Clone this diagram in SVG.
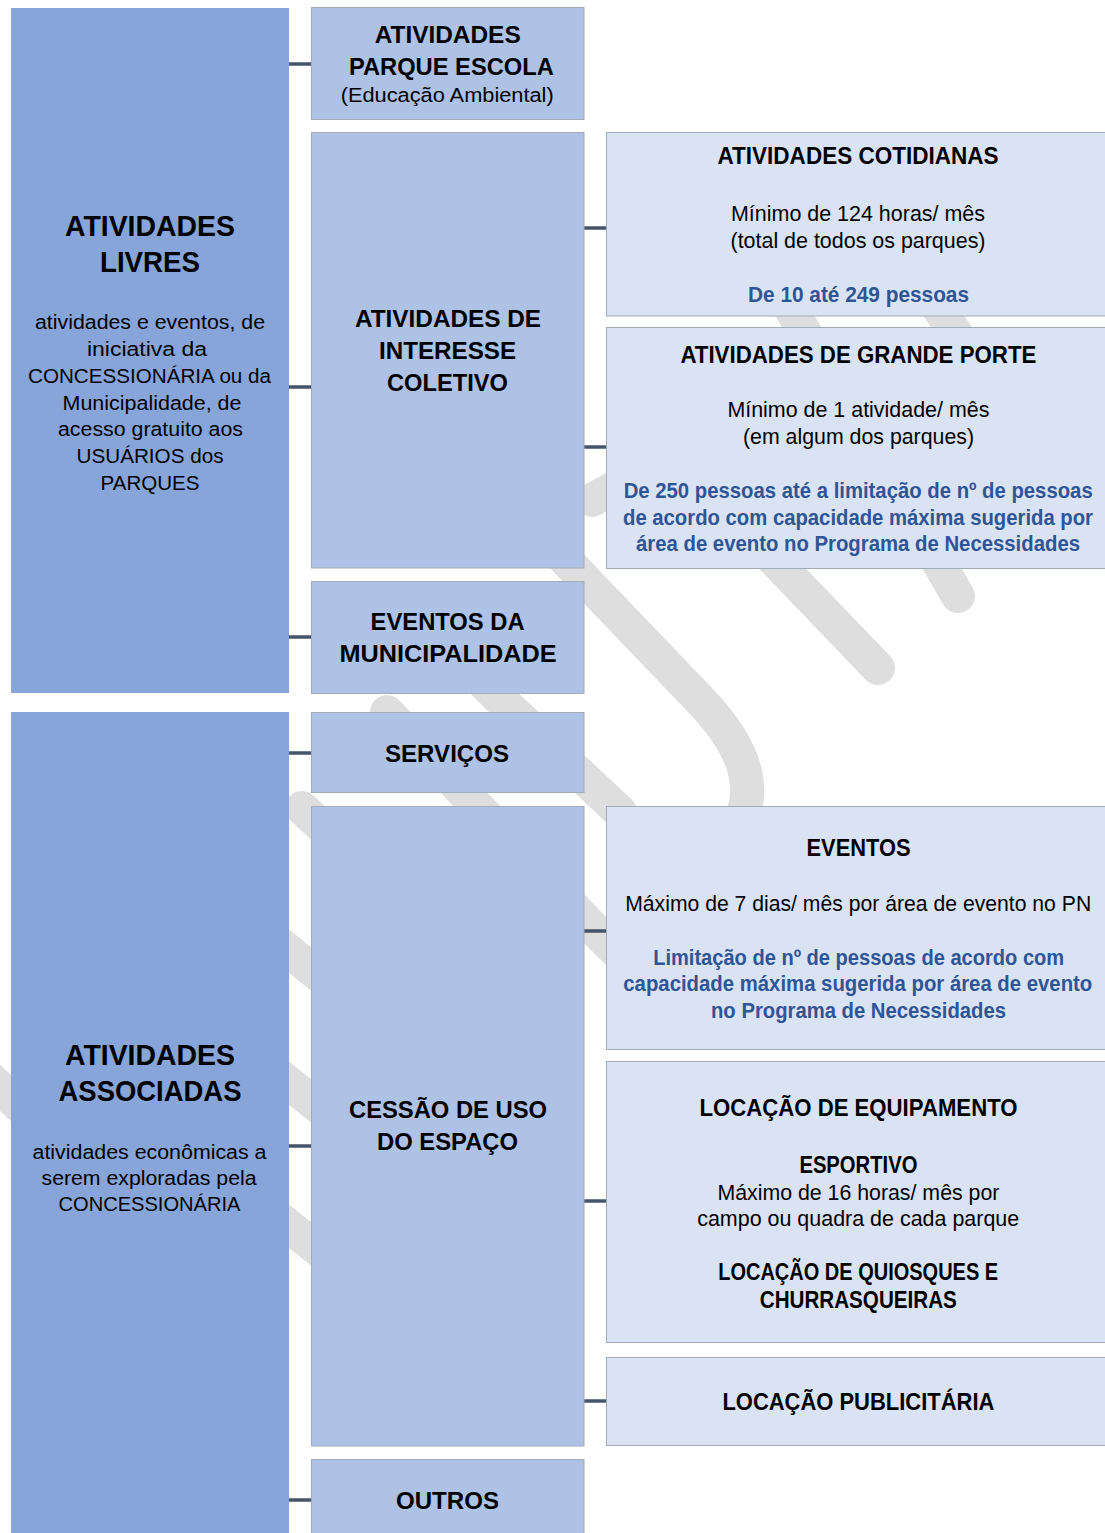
<svg xmlns="http://www.w3.org/2000/svg" width="1105" height="1533" viewBox="0 0 1105 1533">
<style>
  text { font-family: "Liberation Sans", Arial, sans-serif; text-anchor: middle; fill: #000; }
  .wm { fill: none; stroke: #DEDEDE; stroke-width: 34; stroke-linecap: round; stroke-linejoin: round; }
  .c1 { fill: #87A5D9; }
  .c2 { fill: #ADC2E5; stroke: #A3ABB8; stroke-width: 1; }
  .c3 { fill: #DAE3F3; stroke: #A3ABB8; stroke-width: 1; }
  .t1 { font-size: 30px; font-weight: bold; }
  .d1 { font-size: 20px; }
  .t2 { font-size: 24px; font-weight: bold; }
  .t3 { font-size: 24px; font-weight: bold; }
  .b3 { font-size: 22px; }
  .s3 { font-size: 23px; font-weight: bold; }
  .bl { font-size: 22px; font-weight: bold; fill: #2F5597; }
  .conn line { stroke: #44546A; stroke-width: 3.5; }
</style>
<rect x="0" y="0" width="1105" height="1533" fill="#FFFFFF"/>

<g id="watermark">
  <path class="wm" d="M 470 460 L 700 700 C 750 752, 762 800, 728 838 L 690 870"/>
  <path class="wm" d="M 630 410 L 878 668"/>
  <path class="wm" d="M 780 290 L 958 596"/>
  <path class="wm" d="M 900 250 L 960 340"/>
  <path class="wm" d="M 592 500 L 700 440"/>
  <path class="wm" d="M 387 712 L 595 930 L 640 975"/>
  <path class="wm" d="M 440 640 L 503 702 L 620 812"/>
  <path class="wm" d="M 302 808 L 360 862"/>
  <path class="wm" d="M 250 920 L 350 1000"/>
  <path class="wm" d="M 250 1052 L 350 1132"/>
  <path class="wm" d="M 250 1195 L 350 1275"/>
  <path class="wm" d="M -30 1060 L 40 1125"/>
</g>

<g id="connectors" class="conn">
  <line x1="289" y1="64" x2="311" y2="64"/>
  <line x1="289" y1="387" x2="311" y2="387"/>
  <line x1="289" y1="637" x2="311" y2="637"/>
  <line x1="289" y1="753" x2="311" y2="753"/>
  <line x1="289" y1="1146" x2="311" y2="1146"/>
  <line x1="289" y1="1500" x2="311" y2="1500"/>
  <line x1="584" y1="228" x2="606" y2="228"/>
  <line x1="584" y1="447" x2="606" y2="447"/>
  <line x1="584" y1="931" x2="606" y2="931"/>
  <line x1="584" y1="1201" x2="606" y2="1201"/>
  <line x1="584" y1="1401" x2="606" y2="1401"/>
</g>

<g id="atividades-livres">
  <rect class="c1" x="11" y="8" width="278" height="685"/>
  <text class="t1" x="150" y="236" textLength="170" lengthAdjust="spacingAndGlyphs">ATIVIDADES</text>
  <text class="t1" x="150" y="271.5" textLength="100" lengthAdjust="spacingAndGlyphs">LIVRES</text>
  <text class="d1" x="150" y="328.5" textLength="230" lengthAdjust="spacingAndGlyphs">atividades e eventos, de</text>
  <text class="d1" x="147" y="355.5" textLength="120" lengthAdjust="spacingAndGlyphs">iniciativa da</text>
  <text class="d1" x="149.5" y="382.5" textLength="243" lengthAdjust="spacingAndGlyphs">CONCESSIONÁRIA ou da</text>
  <text class="d1" x="152" y="409.5" textLength="179" lengthAdjust="spacingAndGlyphs">Municipalidade, de</text>
  <text class="d1" x="150.5" y="436" textLength="185" lengthAdjust="spacingAndGlyphs">acesso gratuito aos</text>
  <text class="d1" x="150" y="463" textLength="147" lengthAdjust="spacingAndGlyphs">USUÁRIOS dos</text>
  <text class="d1" x="150" y="489.5" textLength="99" lengthAdjust="spacingAndGlyphs">PARQUES</text>
</g>

<g id="atividades-associadas">
  <rect class="c1" x="11" y="712" width="278" height="830"/>
  <text class="t1" x="150" y="1064.5" textLength="170" lengthAdjust="spacingAndGlyphs">ATIVIDADES</text>
  <text class="t1" x="150" y="1100.5" textLength="183" lengthAdjust="spacingAndGlyphs">ASSOCIADAS</text>
  <text class="d1" x="149.5" y="1158.5" textLength="234" lengthAdjust="spacingAndGlyphs">atividades econômicas a</text>
  <text class="d1" x="149" y="1184.5" textLength="215" lengthAdjust="spacingAndGlyphs">serem exploradas pela</text>
  <text class="d1" x="149.5" y="1211" textLength="182" lengthAdjust="spacingAndGlyphs">CONCESSIONÁRIA</text>
</g>

<g id="parque-escola">
  <rect class="c2" x="311.5" y="7.5" width="272.5" height="112"/>
  <text class="t2" x="447.7" y="43" textLength="146" lengthAdjust="spacingAndGlyphs">ATIVIDADES</text>
  <text class="t2" x="451.4" y="74.5" textLength="205" lengthAdjust="spacingAndGlyphs">PARQUE ESCOLA</text>
  <text class="d1" x="447.2" y="102" textLength="213" lengthAdjust="spacingAndGlyphs">(Educação Ambiental)</text>
</g>

<g id="interesse-coletivo">
  <rect class="c2" x="311.5" y="132.5" width="272.5" height="435.5"/>
  <text class="t2" x="448" y="327" textLength="186" lengthAdjust="spacingAndGlyphs">ATIVIDADES DE</text>
  <text class="t2" x="447.5" y="359" textLength="137" lengthAdjust="spacingAndGlyphs">INTERESSE</text>
  <text class="t2" x="447.5" y="391" textLength="121" lengthAdjust="spacingAndGlyphs">COLETIVO</text>
</g>

<g id="eventos-municipalidade">
  <rect class="c2" x="311.5" y="581.5" width="272.5" height="112"/>
  <text class="t2" x="447.6" y="630" textLength="154" lengthAdjust="spacingAndGlyphs">EVENTOS DA</text>
  <text class="t2" x="448" y="662" textLength="217" lengthAdjust="spacingAndGlyphs">MUNICIPALIDADE</text>
</g>

<g id="servicos">
  <rect class="c2" x="311.5" y="712.5" width="272.5" height="80"/>
  <text class="t2" x="447" y="761.5" textLength="124" lengthAdjust="spacingAndGlyphs">SERVIÇOS</text>
</g>

<g id="cessao-uso">
  <rect class="c2" x="311.5" y="806.5" width="272.5" height="639.5"/>
  <text class="t2" x="448" y="1118" textLength="198" lengthAdjust="spacingAndGlyphs">CESSÃO DE USO</text>
  <text class="t2" x="447.5" y="1150" textLength="141" lengthAdjust="spacingAndGlyphs">DO ESPAÇO</text>
</g>

<g id="outros">
  <rect class="c2" x="311.5" y="1459.5" width="272.5" height="90"/>
  <text class="t2" x="447.5" y="1508.5" textLength="103" lengthAdjust="spacingAndGlyphs">OUTROS</text>
</g>

<g id="atividades-cotidianas">
  <rect class="c3" x="606.5" y="132.5" width="499" height="183.5"/>
  <text class="t3" x="858" y="164" textLength="281" lengthAdjust="spacingAndGlyphs">ATIVIDADES COTIDIANAS</text>
  <text class="b3" x="858" y="221" textLength="254" lengthAdjust="spacingAndGlyphs">Mínimo de 124 horas/ mês</text>
  <text class="b3" x="858" y="248" textLength="255" lengthAdjust="spacingAndGlyphs">(total de todos os parques)</text>
  <text class="bl" x="858.5" y="302" textLength="221" lengthAdjust="spacingAndGlyphs">De 10 até 249 pessoas</text>
</g>

<g id="atividades-grande-porte">
  <rect class="c3" x="606.5" y="327.5" width="499" height="241"/>
  <text class="t3" x="858.4" y="362.5" textLength="356" lengthAdjust="spacingAndGlyphs">ATIVIDADES DE GRANDE PORTE</text>
  <text class="b3" x="858.4" y="417" textLength="262" lengthAdjust="spacingAndGlyphs">Mínimo de 1 atividade/ mês</text>
  <text class="b3" x="858.5" y="443.5" textLength="231" lengthAdjust="spacingAndGlyphs">(em algum dos parques)</text>
  <text class="bl" x="858.2" y="498" textLength="469" lengthAdjust="spacingAndGlyphs">De 250 pessoas até a limitação de nº de pessoas</text>
  <text class="bl" x="858" y="525" textLength="470" lengthAdjust="spacingAndGlyphs">de acordo com capacidade máxima sugerida por</text>
  <text class="bl" x="858" y="551" textLength="444" lengthAdjust="spacingAndGlyphs">área de evento no Programa de Necessidades</text>
</g>

<g id="eventos">
  <rect class="c3" x="606.5" y="806.5" width="499" height="243"/>
  <text class="t3" x="858.5" y="856" textLength="104" lengthAdjust="spacingAndGlyphs">EVENTOS</text>
  <text class="b3" x="858.2" y="911" textLength="466" lengthAdjust="spacingAndGlyphs">Máximo de 7 dias/ mês por área de evento no PN</text>
  <text class="bl" x="858.7" y="965" textLength="411" lengthAdjust="spacingAndGlyphs">Limitação de nº de pessoas de acordo com</text>
  <text class="bl" x="857.8" y="991" textLength="469" lengthAdjust="spacingAndGlyphs">capacidade máxima sugerida por área de evento</text>
  <text class="bl" x="858.5" y="1018" textLength="295" lengthAdjust="spacingAndGlyphs">no Programa de Necessidades</text>
</g>

<g id="locacao-equipamento">
  <rect class="c3" x="606.5" y="1061.5" width="499" height="281"/>
  <text class="t3" x="858.5" y="1116" textLength="318" lengthAdjust="spacingAndGlyphs">LOCAÇÃO DE EQUIPAMENTO</text>
  <text class="s3" x="858.4" y="1172.5" textLength="118" lengthAdjust="spacingAndGlyphs">ESPORTIVO</text>
  <text class="b3" x="858.4" y="1200" textLength="282" lengthAdjust="spacingAndGlyphs">Máximo de 16 horas/ mês por</text>
  <text class="b3" x="858.2" y="1226" textLength="322" lengthAdjust="spacingAndGlyphs">campo ou quadra de cada parque</text>
  <text class="s3" x="858.2" y="1280" textLength="280" lengthAdjust="spacingAndGlyphs">LOCAÇÃO DE QUIOSQUES E</text>
  <text class="s3" x="858.3" y="1308" textLength="197" lengthAdjust="spacingAndGlyphs">CHURRASQUEIRAS</text>
</g>

<g id="locacao-publicitaria">
  <rect class="c3" x="606.5" y="1357.5" width="499" height="88"/>
  <text class="t3" x="858.4" y="1410" textLength="272" lengthAdjust="spacingAndGlyphs">LOCAÇÃO PUBLICITÁRIA</text>
</g>
</svg>
